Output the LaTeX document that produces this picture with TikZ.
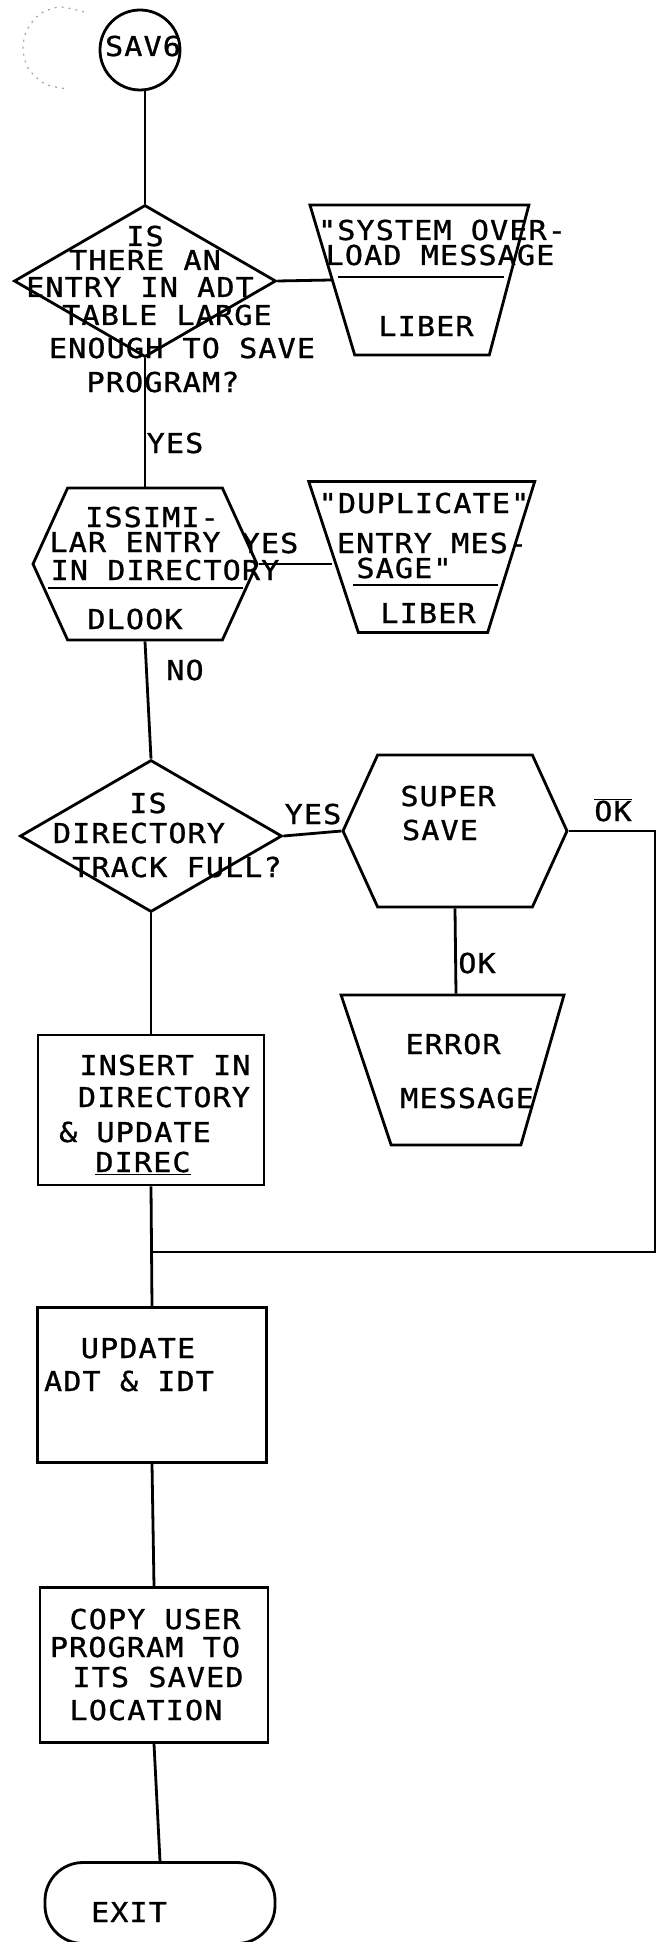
\documentclass[tikz,border=0pt]{standalone}
\usepackage{fontspec}
\newfontfamily\lettering[LetterSpace=4, FakeStretch=1.1, FakeBold=1]{DejaVu Sans Mono}
\usetikzlibrary{shapes.geometric,shapes.symbols}

\tikzset{
  flow/.style={draw, line width=2.8pt, inner sep=0pt},
  decision/.style={flow, diamond, minimum width=262pt, minimum height=152pt},
  message/.style={flow, inner sep=2pt, trapezium, trapezium stretches=true},
  subr/.style={flow, inner sep=2pt, signal, signal to=west and east,
    signal pointer angle=131, minimum width=224pt, minimum height=152pt},
  process/.style={flow, rectangle},
  link/.style={line width=2.8pt},
  lbl/.style={font=\lettering\fontsize{27.4}{30}\selectfont, inner sep=0pt,
    text height=20pt, text depth=0pt},
}

\begin{document}
\begin{tikzpicture}[x=1pt, y=-1pt]
    \useasboundingbox (0,0) rectangle (657,1942);
    % Faint mark beside the entry point
    \draw[gray!70, line width=1.2pt, dash pattern=on 2pt off 5pt]
        plot[smooth] coordinates {(84,12) (60,7) (40,14) (27,30) (23,48) (28,68) (45,84) (68,89)};
    % Shapes
    \node[flow, circle, minimum size=80pt] (sav) at (140,50) {};
    \node[decision] (q1) at (145,281) {};
    \node[message, trapezium left angle=108.4, trapezium right angle=106.4,
        minimum width=219pt, minimum height=150pt] (m1) at (422,280) {};
    \node[subr] (h1) at (145,564) {};
    \node[message, trapezium left angle=111, trapezium right angle=110,
        minimum width=226pt, minimum height=151pt] (m2) at (423,557) {};
    \node[decision] (q2) at (151,836) {};
    \node[subr] (h2) at (455,831) {};
    \node[message, trapezium left angle=111.1, trapezium right angle=108.4,
        minimum width=223pt, minimum height=150pt] (m3) at (456,1070) {};
    \node[process, minimum width=226pt, minimum height=150pt] (r1) at (151,1110) {};
    \node[process, minimum width=229pt, minimum height=155pt] (r2) at (152,1385) {};
    \node[process, minimum width=228pt, minimum height=155pt] (r3) at (154,1665) {};
    \node[flow, rectangle, rounded corners=38pt, minimum width=230pt,
        minimum height=81pt] (ex) at (160,1903) {};
    % Dividers
    \draw[link] (m1.center) ++(-84,-3) -- ++(166,0);
    \draw[link] (h1.center) ++(-97,24) -- ++(195,0);
    \draw[link] (m2.center) ++(-70,28) -- ++(145,0);
    % Connectors
    \coordinate (jr) at (655,1252);
    \coordinate (j) at (152,1252);
    \draw[link] (sav.south -| q1.north) -- (q1.north);
    \draw[link] (q1.east) -- (m1.west);
    \draw[link] (q1.south) -- (h1.north);
    \draw[link] (h1.east) -- (h1.east -| m2.west);
    \draw[link] (h1.south) -- (q2.north);
    \draw[link] (q2.east) -- (h2.west);
    \draw[link] (h2.south) -- (m3.north);
    \draw[link] (h2.east) -| (jr) -- (j);
    \draw[link] (q2.south) -- (r1.north);
    \draw[link] (r1.south) -- (r2.north);
    \draw[link] (r2.south) -- (r3.north);
    \draw[link] (r3.south) -- (ex.north);
    % Texts
    \node[lbl] (savt) at (143,46) {SAV6};
    \foreach \px/\py/\txt [count=\k] in {145/236/IS, 145/260/THERE AN,
        140/287/ENTRY IN ADT, 167/315/TABLE LARGE, 182/348/ENOUGH TO SAVE,
        163/382/PROGRAM?}
        \node[lbl] (q1t\k) at (\px,\py) {\txt};
    \foreach \px/\py/\txt [count=\k] in {442/230/"SYSTEM OVER-,
        440/255/LOAD MESSAGE, 426/326/LIBER}
        \node[lbl] (m1t\k) at (\px,\py) {\txt};
    \foreach \px/\py/\txt [count=\k] in {152/517/ISSIMI-, 135/542/LAR ENTRY,
        165/570/IN DIRECTORY, 135/619/DLOOK}
        \node[lbl] (h1t\k) at (\px,\py) {\txt};
    \foreach \px/\py/\txt [count=\k] in {424/503/"DUPLICATE", 432/543/ENTRY MES-,
        404/568/SAGE", 428/613/LIBER}
        \node[lbl] (m2t\k) at (\px,\py) {\txt};
    \foreach \px/\py/\txt [count=\k] in {148/803/IS, 139/833/DIRECTORY,
        177/867/TRACK FULL?}
        \node[lbl] (q2t\k) at (\px,\py) {\txt};
    \node[lbl] (h2t1) at (448,796) {SUPER};
    \node[lbl] (h2t2) at (440,830) {SAVE};
    \node[lbl] (m3t1) at (453,1044) {ERROR};
    \node[lbl] (m3t2) at (467,1098) {MESSAGE};
    \foreach \px/\py/\txt [count=\k] in {165/1065/INSERT IN, 164/1097/DIRECTORY,
        135/1132/\& UPDATE, 143/1162/\underline{DIREC}}
        \node[lbl] (r1t\k) at (\px,\py) {\txt};
    \node[lbl] (r2t1) at (138,1348) {UPDATE};
    \node[lbl] (r2t2) at (129,1381) {ADT \& IDT};
    \foreach \px/\py/\txt [count=\k] in {155/1619/COPY USER, 145/1647/PROGRAM TO,
        158/1677/ITS SAVED, 146/1710/LOCATION}
        \node[lbl] (r3t\k) at (\px,\py) {\txt};
    \node[lbl] (ext) at (129,1912) {EXIT};
    % Branch labels
    \node[lbl] (yes1) at (175,443) {YES};
    \node[lbl] (yes2) at (270,543) {YES};
    \node[lbl] (no1) at (185,670) {NO};
    \node[lbl] (yes3) at (313,814) {YES};
    \node[lbl] (ok1) at (477,963) {OK};
    \node[lbl] (nok) at (613,811) {\ensuremath{\overline{\mbox{OK}}}};
\end{tikzpicture}
\end{document}
